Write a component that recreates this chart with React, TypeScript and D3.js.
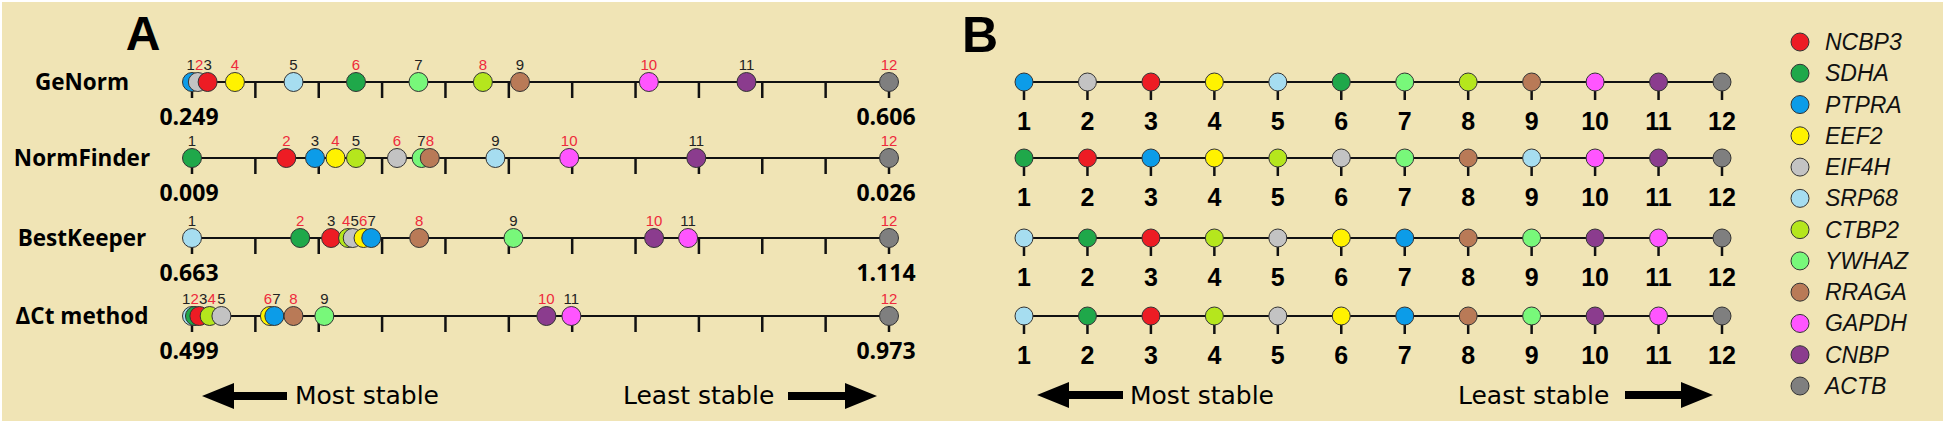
import React from "react";
import * as d3 from "d3";

const genes = ["NCBP3", "SDHA", "PTPRA", "EEF2", "EIF4H", "SRP68", "CTBP2", "YWHAZ", "RRAGA", "GAPDH", "CNBP", "ACTB"];
const geneColors = ["#ED1C24", "#1FA84A", "#0C9CE8", "#FFF200", "#C3C3C3", "#A6DDF0", "#B5E61D", "#78F87A", "#B97A57", "#FF55FF", "#8B3C8E", "#7F7F7F"];

const methods = ["GeNorm", "NormFinder", "BestKeeper", "ΔCt method"];

const genormOrder = ["PTPRA", "EIF4H", "NCBP3", "EEF2", "SRP68", "SDHA", "YWHAZ", "CTBP2", "RRAGA", "GAPDH", "CNBP", "ACTB"];
const genormValues = [0.249, 0.252, 0.257, 0.271, 0.301, 0.333, 0.365, 0.398, 0.417, 0.483, 0.533, 0.606];

const normfinderOrder = ["SDHA", "NCBP3", "PTPRA", "EEF2", "CTBP2", "EIF4H", "YWHAZ", "RRAGA", "SRP68", "GAPDH", "CNBP", "ACTB"];
const normfinderValues = [0.009, 0.0113, 0.012, 0.0125, 0.013, 0.014, 0.0146, 0.0148, 0.0164, 0.0182, 0.0213, 0.026];

const bestkeeperOrder = ["SRP68", "SDHA", "NCBP3", "CTBP2", "EIF4H", "EEF2", "PTPRA", "RRAGA", "YWHAZ", "CNBP", "GAPDH", "ACTB"];
const bestkeeperValues = [0.663, 0.733, 0.753, 0.764, 0.767, 0.774, 0.779, 0.81, 0.871, 0.962, 0.984, 1.114];

const deltaCtOrder = ["SRP68", "SDHA", "NCBP3", "CTBP2", "EIF4H", "EEF2", "PTPRA", "RRAGA", "YWHAZ", "CNBP", "GAPDH", "ACTB"];
const deltaCtValues = [0.499, 0.501, 0.504, 0.511, 0.519, 0.552, 0.555, 0.568, 0.589, 0.74, 0.757, 0.973];

const comprehensiveOrders = [genormOrder, normfinderOrder, bestkeeperOrder, deltaCtOrder];
const ranks = d3.range(1, 13);

const W = 1946;
const H = 426;
const rowY = [82, 158, 238, 316];
const BG = "#F0E4B5";

const colorOf = d3.scaleOrdinal<string, string>().domain(genes).range(geneColors);

function spreadLabels(xs: number[], widths: number[]): number[] {
  const p = xs.slice();
  for (let it = 0; it < 200; it++) {
    let moved = false;
    for (let i = 0; i < p.length - 1; i++) {
      const need = (widths[i] + widths[i + 1]) / 2 + 0.5;
      const d = p[i + 1] - p[i];
      if (d < need) {
        const s = (need - d) / 2;
        p[i] -= s;
        p[i + 1] += s;
        moved = true;
      }
    }
    if (!moved) break;
  }
  return p;
}

function Arrow({ tip, tail, y }: { tip: number; tail: number; y: number }) {
  const dir = tail > tip ? 1 : -1;
  const headLen = 32;
  const headHalf = 13;
  const shaftHalf = 4;
  const hb = tip + dir * headLen;
  const pts = [
    [tip, y],
    [hb, y - headHalf],
    [hb, y - shaftHalf],
    [tail, y - shaftHalf],
    [tail, y + shaftHalf],
    [hb, y + shaftHalf],
    [hb, y + headHalf],
  ];
  return <polygon points={pts.map((p) => p.join(",")).join(" ")} fill="#000" />;
}

export default function App() {
  const methodData = [
    { order: genormOrder, values: genormValues },
    { order: normfinderOrder, values: normfinderValues },
    { order: bestkeeperOrder, values: bestkeeperValues },
    { order: deltaCtOrder, values: deltaCtValues },
  ];
  const x0 = 192;
  const x1 = 889;
  const tickScale = d3.scaleLinear().domain([0, 11]).range([x0, x1]);
  const rankScale = d3.scaleLinear().domain([1, 12]).range([1024, 1722]);
  const legendY = d3.scaleLinear().domain([0, 11]).range([42, 386]);
  const numFmt = d3.format(".3f");
  const r = 9.5;

  return (
    <svg width={W} height={H} style={{ position: "absolute", left: 0, top: 0 }}>
      <rect x={0} y={0} width={W} height={H} fill="#fff" />
      <rect x={2} y={2} width={1941} height={419} fill={BG} />

      {/* Panel A */}
      <text x={143} y={50} textAnchor="middle" fontFamily="Liberation Sans, Arial, sans-serif" fontWeight="bold" fontSize={48}>A</text>
      {methodData.map((m, mi) => {
        const y = rowY[mi];
        const xs = d3.scaleLinear().domain([m.values[0], m.values[m.values.length - 1]]).range([x0, x1]);
        const cx = m.values.map((v) => xs(v));
        const lw = ranks.map((k) => String(k).length * 8);
        const lx = spreadLabels(cx, lw);
        return (
          <g key={mi}>
            <text x={82} y={y + 8} textAnchor="middle" fontFamily="Open Sans, sans-serif" fontWeight="bold" fontSize={22.5}>{methods[mi]}</text>
            <line x1={x0} x2={x1} y1={y} y2={y} stroke="#111" strokeWidth={2} />
            {d3.range(12).map((i) => (
              <line key={i} x1={tickScale(i)} x2={tickScale(i)} y1={y} y2={y + 16} stroke="#111" strokeWidth={2.5} />
            ))}
            {m.order.map((g, i) => (
              <circle key={g} cx={cx[i]} cy={y} r={r} fill={colorOf(g)} stroke="#333" strokeWidth={1} />
            ))}
            {ranks.map((k, i) => (
              <text key={k} x={lx[i]} y={y - 12} textAnchor="middle" fontFamily="Liberation Sans, Arial, sans-serif" fontSize={15} fill={k % 2 === 0 ? "#EE2A3C" : "#222"}>{k}</text>
            ))}
            <text x={x0 - 3} y={y + 43} textAnchor="middle" fontFamily="Open Sans, sans-serif" fontWeight="bold" fontSize={23}>{numFmt(m.values[0])}</text>
            <text x={x1 - 3} y={y + 43} textAnchor="middle" fontFamily="Open Sans, sans-serif" fontWeight="bold" fontSize={23}>{numFmt(m.values[m.values.length - 1])}</text>
          </g>
        );
      })}
      <Arrow tip={202} tail={287} y={396} />
      <text x={295} y={404} fontFamily="DejaVu Sans, sans-serif" fontSize={25}>Most stable</text>
      <text x={623} y={404} fontFamily="DejaVu Sans, sans-serif" fontSize={25}>Least stable</text>
      <Arrow tip={877} tail={788} y={396} />

      {/* Panel B */}
      <text x={980} y={52} textAnchor="middle" fontFamily="Liberation Sans, Arial, sans-serif" fontWeight="bold" fontSize={50}>B</text>
      {comprehensiveOrders.map((order, oi) => {
        const y = rowY[oi];
        return (
          <g key={oi}>
            <line x1={rankScale(1)} x2={rankScale(12)} y1={y} y2={y} stroke="#111" strokeWidth={2} />
            {ranks.map((k) => (
              <line key={k} x1={rankScale(k)} x2={rankScale(k)} y1={y} y2={y + 18} stroke="#111" strokeWidth={2.5} />
            ))}
            {order.map((g, i) => (
              <circle key={g} cx={rankScale(i + 1)} cy={y} r={9} fill={colorOf(g)} stroke="#333" strokeWidth={1} />
            ))}
            {ranks.map((k) => (
              <text key={k} x={rankScale(k)} y={y + 48} textAnchor="middle" fontFamily="Liberation Sans, Arial, sans-serif" fontWeight="bold" fontSize={25}>{k}</text>
            ))}
          </g>
        );
      })}
      <Arrow tip={1037} tail={1123} y={395} />
      <text x={1130} y={404} fontFamily="DejaVu Sans, sans-serif" fontSize={25}>Most stable</text>
      <text x={1458} y={404} fontFamily="DejaVu Sans, sans-serif" fontSize={25}>Least stable</text>
      <Arrow tip={1713} tail={1625} y={395} />

      {/* Legend */}
      {genes.map((g, i) => (
        <g key={g}>
          <circle cx={1800} cy={legendY(i)} r={9} fill={colorOf(g)} stroke="#333" strokeWidth={1} />
          <text x={1825} y={legendY(i) + 8} fontFamily="Liberation Sans, Arial, sans-serif" fontStyle="italic" fontSize={23} fill="#111">{g}</text>
        </g>
      ))}
    </svg>
  );
}
